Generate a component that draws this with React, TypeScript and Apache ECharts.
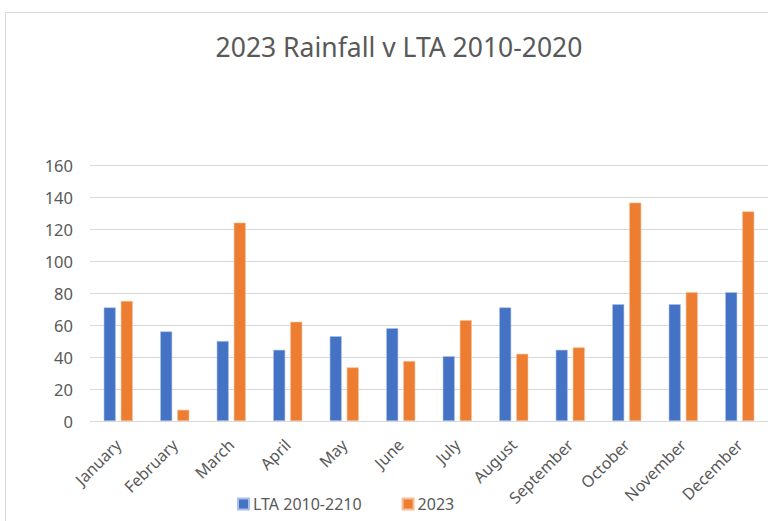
import React, { useEffect, useRef } from "react";
import * as echarts from "echarts";

const months = ["January", "February", "March", "April", "May", "June", "July", "August", "September", "October", "November", "December"];
const lta = [71, 56, 50, 44.5, 53, 58, 40.5, 71, 44.5, 73, 73, 80.5];
const y2023 = [75, 7, 124, 62, 33.5, 37.5, 63, 42, 46, 136.5, 80.5, 131];
const seriesNames = ["LTA 2010-2210", "2023"];

export default function App() {
  const ref = useRef<HTMLDivElement>(null);
  useEffect(() => {
    const chart = echarts.init(ref.current!, null, { renderer: "svg" });
    const font = "'Noto Sans', 'Open Sans', sans-serif";
    chart.setOption({
      animation: false,
      backgroundColor: "#ffffff",
      textStyle: { fontFamily: font },
      title: {
        text: "2023 Rainfall v LTA 2010-2020",
        left: 394,
        top: 28,
        textAlign: "center",
        textStyle: { fontSize: 26.5, fontWeight: "normal", color: "#595959", fontFamily: font },
      },
      graphic: [
        {
          type: "rect",
          shape: { x: 5.5, y: 12.5, width: 800, height: 600 },
          style: { fill: "none", stroke: "#D9D9D9", lineWidth: 1 },
          silent: true,
          z: -1,
        },
      ],
      legend: {
        bottom: 4,
        left: 232,
        itemWidth: 11,
        itemHeight: 11,
        itemGap: 40,
        icon: "rect",
        textStyle: { fontSize: 16, color: "#595959", fontFamily: font, padding: [0, 0, 0, -1] },
        data: seriesNames,
      },
      grid: { left: 90, right: -10, top: 165, bottom: 100, containLabel: false },
      xAxis: {
        type: "category",
        data: months,
        axisLine: { lineStyle: { color: "#D9D9D9", width: 1 } },
        axisTick: { show: false },
        axisLabel: { rotate: 45, color: "#595959", fontSize: 16, margin: 21, interval: 0, fontFamily: font },
      },
      yAxis: {
        type: "value",
        min: 0,
        max: 160,
        interval: 20,
        axisLine: { show: false },
        axisTick: { show: false },
        axisLabel: { color: "#595959", fontSize: 16.5, margin: 17, fontFamily: font },
        splitLine: { lineStyle: { color: "#D9D9D9", width: 1 } },
      },
      series: [
        {
          name: seriesNames[0],
          type: "bar",
          data: lta,
          barWidth: 12,
          barGap: "42%",
          itemStyle: { color: "#4472C4", borderColor: "#A9BFE6", borderWidth: 0.6 },
        },
        {
          name: seriesNames[1],
          type: "bar",
          data: y2023,
          barWidth: 12,
          itemStyle: { color: "#ED7D31", borderColor: "#F6BE98", borderWidth: 0.6 },
        },
      ],
    });
    return () => chart.dispose();
  }, []);
  return <div ref={ref} style={{ position: "absolute", left: 0, top: 0, width: 768, height: 521 }} />;
}
